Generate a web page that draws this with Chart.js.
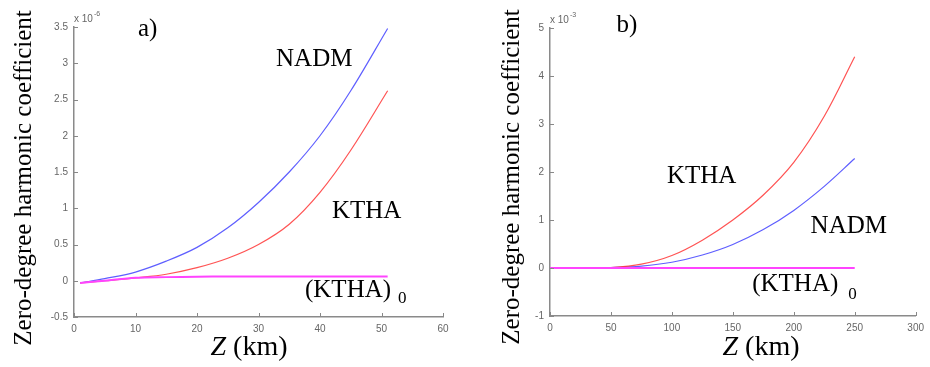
<!DOCTYPE html>
<html>
<head>
<meta charset="utf-8">
<script src="https://cdn.jsdelivr.net/npm/chart.js@4.4.0/dist/chart.umd.min.js"></script>
<style>
html, body { margin: 0; padding: 0; background: #fff; }
#wrap { position: relative; width: 930px; height: 367px; }
canvas { position: absolute; top: 0; }
</style>
</head>
<body>
<div id="wrap">
  <canvas id="chartA" width="465" height="367" style="left:0"></canvas>
  <canvas id="chartB" width="465" height="367" style="left:465px"></canvas>
</div>
<script>
// panel a) - depth Z in km, coefficients in units of 1e-6
const zA = [1, 5, 10, 15, 20, 25, 30, 35, 40, 45, 51];
const nadmA = [-0.03, 0.03, 0.12, 0.27, 0.46, 0.73, 1.08, 1.5, 2.0, 2.62, 3.48];
const kthaA = [-0.03, 0.0, 0.04, 0.09, 0.18, 0.31, 0.5, 0.78, 1.22, 1.8, 2.62];
const ktha0A = [-0.03, 0.0, 0.04, 0.05, 0.055, 0.06, 0.06, 0.06, 0.06, 0.06, 0.06];
const xTicksA = [0, 10, 20, 30, 40, 50, 60];
const yTicksA = [-0.5, 0, 0.5, 1, 1.5, 2, 2.5, 3, 3.5];

// panel b) - depth Z in km, coefficients in units of 1e-3
const zB = [0, 25, 50, 75, 100, 125, 150, 175, 200, 225, 250];
const nadmB = [0, 0, 0.01, 0.04, 0.12, 0.27, 0.49, 0.8, 1.2, 1.7, 2.28];
const kthaB = [0, 0, 0.01, 0.08, 0.26, 0.58, 1.0, 1.52, 2.2, 3.16, 4.4];
const ktha0B = [0, 0, 0, 0, 0, 0, 0, 0, 0, 0, 0];
const xTicksB = [0, 50, 100, 150, 200, 250, 300];
const yTicksB = [-1, 0, 1, 2, 3, 4, 5];

const serif = '"Liberation Serif", "Times New Roman", serif';
const sans = '"Liberation Sans", Arial, sans-serif';

function pts(xs, ys) {
    return xs.map((x, i) => ({ x: x, y: ys[i] }));
}

// text, inward ticks and axis titles drawn on top of the plot
const decor = {
    id: 'decor',
    afterDraw(chart, args, opts) {
        const ctx = chart.ctx;
        const xs = chart.scales.x;
        const ys = chart.scales.y;
        ctx.save();

        ctx.strokeStyle = '#888';
        ctx.lineWidth = 1;
        xs.ticks.forEach(t => {
            const p = Math.round(xs.getPixelForValue(t.value)) + 0.5;
            ctx.beginPath(); ctx.moveTo(p, ys.bottom); ctx.lineTo(p, ys.bottom - 4); ctx.stroke();
        });
        ys.ticks.forEach(t => {
            const p = Math.round(ys.getPixelForValue(t.value)) + 0.5;
            ctx.beginPath(); ctx.moveTo(xs.left, p); ctx.lineTo(xs.left + 4, p); ctx.stroke();
        });

        // exponent
        ctx.fillStyle = '#666';
        ctx.textAlign = 'left';
        ctx.textBaseline = 'alphabetic';
        ctx.font = '10px ' + sans;
        ctx.fillText('x 10', xs.left, ys.top - 5);
        const ew = ctx.measureText('x 10').width;
        ctx.font = '7px ' + sans;
        ctx.fillText(opts.exp, xs.left + ew + 1, ys.top - 11);

        // curve labels
        ctx.fillStyle = '#000';
        opts.labels.forEach(l => {
            const px = xs.getPixelForValue(l.x);
            const py = ys.getPixelForValue(l.y);
            ctx.font = '25px ' + serif;
            ctx.fillText(l.text, px, py);
            if (l.sub) {
                const w = ctx.measureText(l.text).width;
                ctx.font = '17px ' + serif;
                ctx.fillText(l.sub, px + w + l.gap, py + l.drop);
            }
        });

        // y title
        ctx.save();
        ctx.translate(opts.yTitle[0], opts.yTitle[1]);
        ctx.rotate(-Math.PI / 2);
        ctx.textAlign = 'center';
        ctx.font = '25px ' + serif;
        ctx.fillText('Zero-degree harmonic coefficient', 0, 0);
        ctx.restore();

        // x title
        ctx.font = 'italic 28px ' + serif;
        const zw = ctx.measureText('Z').width;
        ctx.font = '28px ' + serif;
        const rw = ctx.measureText(' (km)').width;
        const x0 = opts.xTitle[0] - (zw + rw) / 2;
        ctx.font = 'italic 28px ' + serif;
        ctx.fillText('Z', x0, opts.xTitle[1]);
        ctx.font = '28px ' + serif;
        ctx.fillText(' (km)', x0 + zw, opts.xTitle[1]);

        ctx.restore();
    }
};

function makeChart(id, z, nadm, ktha, ktha0, xTicks, yTicks, pad, extra) {
    const line = (data, color, width) => ({
        data: data,
        borderColor: color,
        borderWidth: width,
        pointRadius: 0,
        fill: false,
        tension: 0.35
    });
    const axis = (ticks, isY) => ({
        type: 'linear',
        min: ticks[0],
        max: ticks[ticks.length - 1],
        afterBuildTicks: s => { s.ticks = ticks.map(v => ({ value: v })); },
        afterFit: s => { if (isY) s.width = 40; else s.height = 30; },
        border: { display: true, color: '#8a8a8a', width: 1.5 },
        grid: { display: false, drawTicks: false },
        ticks: {
            color: '#666',
            padding: 6,
            maxRotation: 0,
            autoSkip: false,
            font: { family: sans, size: 10 },
            callback: v => String(v)
        }
    });
    return new Chart(document.getElementById(id), {
        type: 'line',
        data: {
            datasets: [
                line(pts(z, ktha0), '#ff44ff', 2),
                line(pts(z, ktha), 'rgba(255,40,40,0.8)', 1.2),
                line(pts(z, nadm), 'rgba(40,40,255,0.75)', 1.2)
            ]
        },
        options: {
            responsive: false,
            animation: false,
            devicePixelRatio: 1,
            layout: { padding: pad },
            scales: { x: axis(xTicks, false), y: axis(yTicks, true) },
            plugins: { legend: { display: false }, tooltip: { enabled: false }, decor: extra }
        },
        plugins: [decor]
    });
}

makeChart('chartA', zA, nadmA, kthaA, ktha0A, xTicksA, yTicksA,
    { left: 34, right: 22, top: 27, bottom: 20 },
    {
        exp: '-6',
        yTitle: [31, 178],
        xTitle: [249, 355],
        labels: [
            { text: 'a)', x: 10.4, y: 3.38 },
            { text: 'NADM', x: 32.85, y: 2.96 },
            { text: 'KTHA', x: 41.95, y: 0.86 },
            { text: '(KTHA)', x: 37.56, y: -0.23, sub: '0', gap: 7, drop: 6 }
        ]
    });

makeChart('chartB', zB, nadmB, kthaB, ktha0B, xTicksB, yTicksB,
    { left: 45, right: 11, top: 28, bottom: 21 },
    {
        exp: '-3',
        yTitle: [54, 177],
        xTitle: [296, 355],
        labels: [
            { text: 'b)', x: 54.5, y: 4.92 },
            { text: 'KTHA', x: 95.9, y: 1.77 },
            { text: 'NADM', x: 213.8, y: 0.72 },
            { text: '(KTHA)', x: 165.9, y: -0.47, sub: '0', gap: 10, drop: 8 }
        ]
    });
</script>
</body>
</html>
